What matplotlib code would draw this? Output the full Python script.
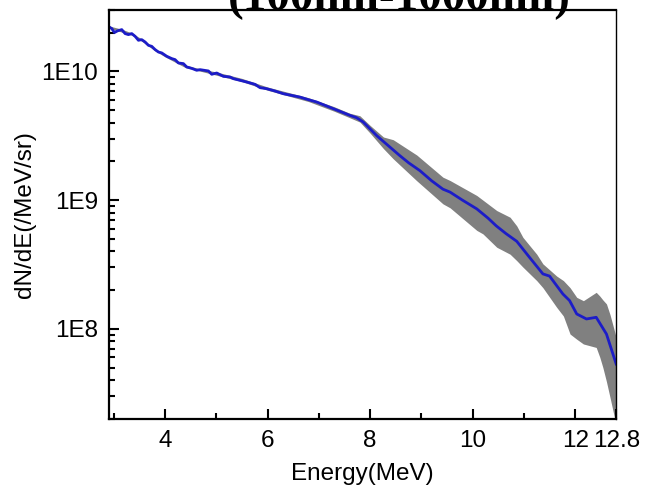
import matplotlib
matplotlib.use("Agg")
import matplotlib.pyplot as plt
import numpy as np
from matplotlib.ticker import FixedLocator, FixedFormatter, LogLocator, NullFormatter

# Mean spectrum: energy in MeV, log10 of dN/dE in /MeV/sr
energy = [2.908, 2.960, 3.012, 3.071, 3.155, 3.220, 3.285, 3.350, 3.415, 3.480,
          3.545, 3.610, 3.675, 3.740, 3.805, 3.870, 3.935, 4.032, 4.130, 4.195,
          4.260, 4.357, 4.422, 4.520, 4.617, 4.682, 4.845, 4.910, 5.007, 5.137,
          5.267, 5.332, 5.462, 5.592, 5.754, 5.852, 5.982, 6.144, 6.307, 6.469,
          6.632, 6.794, 6.956, 7.119, 7.281, 7.444, 7.606, 7.736, 7.866, 7.996,
          8.13, 8.26, 8.42, 8.58, 8.75, 8.97, 9.20, 9.42, 9.56, 9.80, 10.08,
          10.30, 10.46, 10.65, 10.86, 11.10, 11.37, 11.50, 11.76, 11.89, 12.03,
          12.22, 12.41, 12.61, 12.80]
log_flux = [10.345, 10.332, 10.301, 10.314, 10.324, 10.293, 10.285, 10.293,
            10.272, 10.241, 10.246, 10.228, 10.202, 10.194, 10.169, 10.150,
            10.143, 10.117, 10.099, 10.091, 10.065, 10.060, 10.034, 10.023,
            10.008, 10.013, 10.003, 9.977, 9.987, 9.961, 9.956, 9.943, 9.930,
            9.917, 9.899, 9.873, 9.865, 9.847, 9.826, 9.813, 9.800, 9.780,
            9.762, 9.736, 9.710, 9.684, 9.658, 9.640, 9.606, 9.554, 9.500,
            9.455, 9.400, 9.345, 9.290, 9.229, 9.150, 9.085, 9.062, 9.000,
            8.932, 8.860, 8.800, 8.740, 8.680, 8.560, 8.427, 8.410, 8.271,
            8.220, 8.116, 8.077, 8.090, 7.960, 7.727]

# Shot-to-shot spread: lower / upper envelope (log10)
band_energy = [2.91, 3.15, 3.35, 3.55, 3.80, 4.00, 4.40, 4.70, 5.00, 5.50, 6.00,
               6.80, 7.30, 7.60, 7.80, 8.00, 8.26, 8.45, 8.91, 9.42, 9.56,
               10.08, 10.20, 10.47, 10.73, 10.86, 10.98, 11.25, 11.37, 11.64,
               11.77, 11.90, 12.03, 12.16, 12.41, 12.48, 12.54, 12.61, 12.68,
               12.80]
band_low = [10.335, 10.305, 10.280, 10.232, 10.160, 10.112, 10.028, 10.000,
            9.970, 9.920, 9.853, 9.765, 9.690, 9.640, 9.606, 9.520, 9.400,
            9.321, 9.150, 8.971, 8.940, 8.765, 8.738, 8.634, 8.580, 8.530,
            8.480, 8.375, 8.320, 8.167, 8.100, 7.960, 7.920, 7.883, 7.856,
            7.780, 7.700, 7.590, 7.467, 7.250]
band_high = [10.352, 10.328, 10.298, 10.250, 10.178, 10.132, 10.048, 10.018,
             9.995, 9.945, 9.878, 9.795, 9.725, 9.675, 9.655, 9.580, 9.490,
             9.469, 9.350, 9.178, 9.152, 9.036, 9.000, 8.919, 8.867, 8.800,
             8.711, 8.580, 8.505, 8.410, 8.375, 8.320, 8.245, 8.219, 8.284,
             8.255, 8.225, 8.194, 8.110, 7.934]

x_major = [4, 6, 8, 10, 12, 12.8]
x_major_labels = ["4", "6", "8", "10", "12", "12.8"]
x_minor = [3, 5, 7, 9, 11]
y_major = [1e8, 1e9, 1e10]
y_major_labels = ["1E8", "1E9", "1E10"]

flux = np.power(10.0, log_flux)
low = np.power(10.0, band_low)
high = np.power(10.0, band_high)

plt.rcParams["font.family"] = ["Liberation Sans", "DejaVu Sans"]

fig = plt.figure(figsize=(6.5, 4.94), dpi=100)
ax = fig.add_axes([0.168, 0.152, 0.780, 0.828])

ax.fill_between(band_energy, low, high, color="#808080", lw=0, zorder=1)
ax.plot(energy, flux, color="#1c1cc8", lw=2.0, zorder=2)

ax.set_yscale("log")
ax.set_xlim(2.91, 12.8)
ax.set_ylim(2e7, 3e10)

ax.xaxis.set_major_locator(FixedLocator(x_major))
ax.xaxis.set_major_formatter(FixedFormatter(x_major_labels))
ax.xaxis.set_minor_locator(FixedLocator(x_minor))
ax.yaxis.set_major_locator(FixedLocator(y_major))
ax.yaxis.set_major_formatter(FixedFormatter(y_major_labels))
ax.yaxis.set_minor_locator(LogLocator(base=10, subs=np.arange(2, 10)))
ax.yaxis.set_minor_formatter(NullFormatter())

ax.tick_params(which="both", direction="in", width=1.5, labelsize=17.5,
               top=False, right=False, pad=8)
ax.tick_params(which="major", length=7.5)
ax.tick_params(which="minor", length=4)

for side in ["left", "bottom", "top"]:
    ax.spines[side].set_linewidth(1.6)
ax.spines["right"].set_linewidth(1.0)

ax.set_xlabel("Energy(MeV)", fontsize=17.5, labelpad=8)
ax.set_ylabel("dN/dE(/MeV/sr)", fontsize=17.5, labelpad=4)

fig.text(0.614, 1 - 10 / 494, "(100nm-1000nm)", family="Liberation Serif",
         weight="bold", fontsize=34, ha="center", va="baseline")

fig.savefig("out.png", dpi=100)
